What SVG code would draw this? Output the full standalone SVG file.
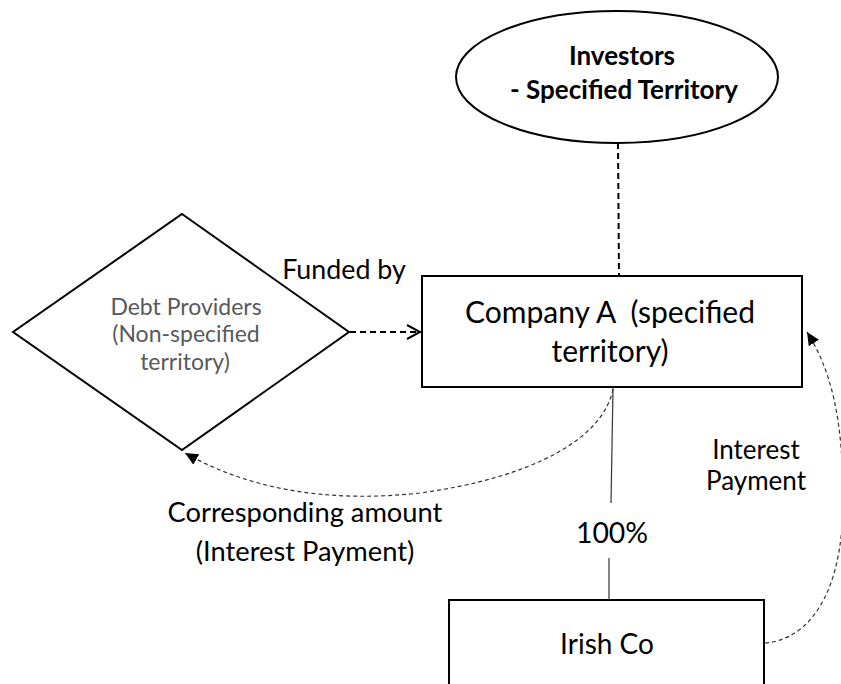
<svg xmlns="http://www.w3.org/2000/svg" width="841" height="684" viewBox="0 0 841 684">
<defs>
<style>
.shape{fill:#fff;stroke:#000;stroke-width:2}
.t{font-family:Lato,"Liberation Sans",sans-serif;fill:#000;text-anchor:middle}
.b{font-weight:bold}
.g{fill:#595959}
.dash{fill:none;stroke:#000;stroke-width:2;stroke-dasharray:6 4}
.thin{fill:none;stroke:#333;stroke-width:1.2;stroke-dasharray:4 3}
.solid{fill:none;stroke:#333;stroke-width:1.2}
</style>
<marker id="open" markerWidth="16" markerHeight="16" refX="14" refY="8" orient="auto" markerUnits="userSpaceOnUse">
<path d="M1,1 L14,8 L1,15" fill="none" stroke="#000" stroke-width="2"/>
</marker>
<marker id="tri" markerWidth="14" markerHeight="14" refX="13" refY="7" orient="auto" markerUnits="userSpaceOnUse">
<path d="M0,1 L13,7 L0,13 Z" fill="#000"/>
</marker>
</defs>
<rect width="841" height="684" fill="#fff"/>
<g id="connectors">
<line class="dash" x1="618" y1="143" x2="619" y2="276"/>
<line class="dash" x1="350" y1="332" x2="420" y2="332" marker-end="url(#open)"/>
<line class="solid" x1="613" y1="388" x2="611" y2="503"/>
<line class="solid" x1="609" y1="558" x2="609" y2="600"/>
<path class="thin" d="M613,389 C603,440 530,478 420,493 C330,503 250,490 185,453" marker-end="url(#tri)"/>
<path class="thin" d="M765,643 C805,640 843,600 843,500 C843,420 832,372 807,332" marker-end="url(#tri)"/>
<text class="t" x="344" y="279" font-size="26.8">Funded by</text>
<text class="t" x="305" y="522" font-size="27.3">Corresponding amount</text>
<text class="t" x="305" y="561" font-size="27.3">(Interest Payment)</text>
<text class="t" x="612" y="543" font-size="28.4">100%</text>
<text class="t" x="756" y="459" font-size="26">Interest</text>
<text class="t" x="756" y="490" font-size="26">Payment</text>
</g>
<g id="investors">
<ellipse class="shape" cx="617" cy="77" rx="161" ry="66"/>
<text class="t b" x="622" y="65" font-size="26">Investors</text>
<text class="t b" x="624" y="99" font-size="26">- Specified Territory</text>
</g>
<g id="debt-providers">
<polygon class="shape" points="182,214 349,332 182,450 13,332"/>
<text class="t g" x="186" y="315" font-size="23">Debt Providers</text>
<text class="t g" x="186" y="342" font-size="23">(Non-specified</text>
<text class="t g" x="185" y="370" font-size="23">territory)</text>
</g>
<g id="company-a">
<rect class="shape" x="422" y="276" width="380" height="111"/>
<text class="t" x="610" y="323" font-size="30" xml:space="preserve">Company A  (specified</text>
<text class="t" x="610" y="362" font-size="30">territory)</text>
</g>
<g id="irish-co">
<rect class="shape" x="449" y="600" width="315" height="110"/>
<text class="t" x="607" y="654" font-size="28">Irish Co</text>
</g>
</svg>
